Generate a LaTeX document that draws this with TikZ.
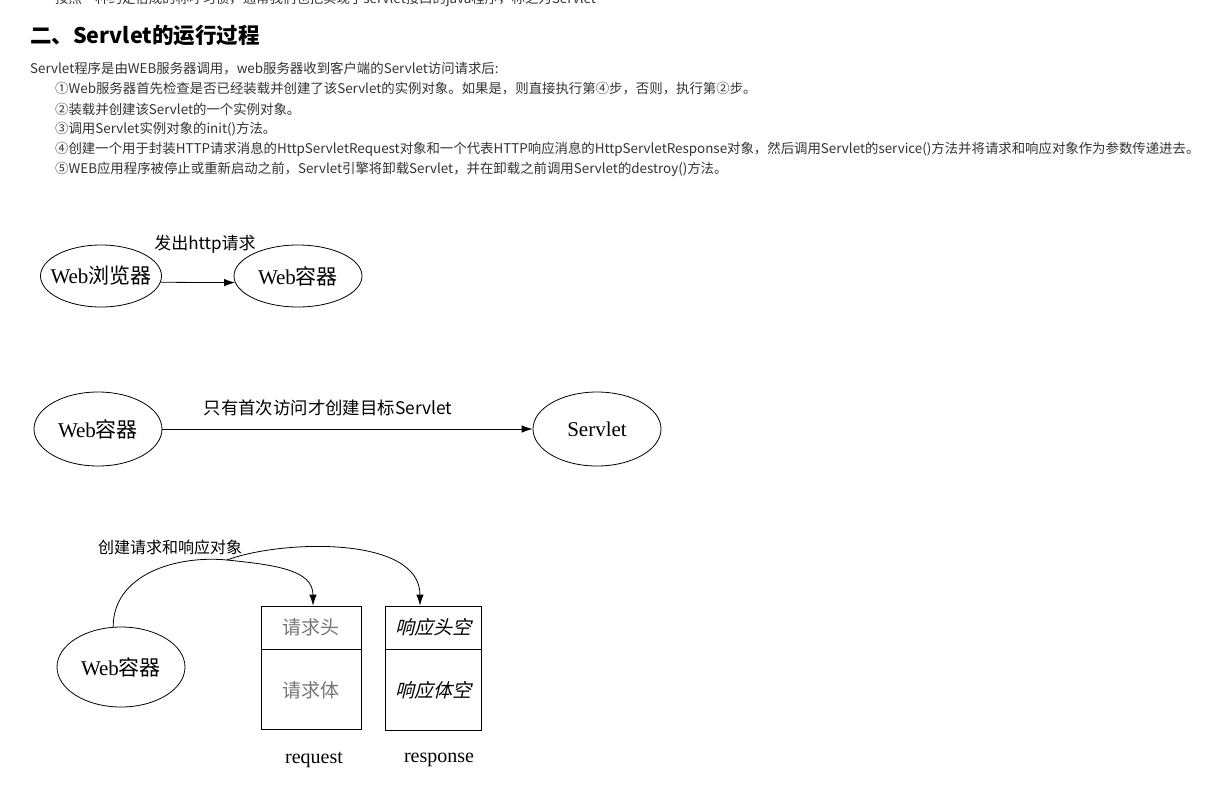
\documentclass[tikz,border=0pt]{standalone}
\usepackage{fontspec}
\setmainfont{Liberation Serif}
\newfontfamily\cjk{Noto Sans CJK SC}
\newfontfamily\cjkit[FakeSlant=0.25]{Noto Sans CJK SC}
\usetikzlibrary{arrows.meta,shapes.geometric,calc}
\definecolor{bodytxt}{HTML}{333333}
\definecolor{graytxt}{HTML}{777777}
\tikzset{
  body/.style={anchor=west,inner sep=0pt,text=bodytxt,font=\cjk\fontsize{13.4}{15}\selectfont},
  ell/.style={ellipse,draw,line width=0.8pt,inner sep=0pt,font=\fontsize{21}{23}\selectfont},
  lbl/.style={inner sep=0pt,font=\cjk\fontsize{17}{19}\selectfont},
  box/.style={rectangle,draw,line width=0.8pt,inner sep=0pt,font=\cjk\fontsize{19}{21}\selectfont},
  conn/.style={line width=0.8pt,-{Latex[length=11pt,width=7.5pt]}},
  captxt/.style={inner sep=0pt,font=\fontsize{20}{22}\selectfont}
}
\begin{document}
\begin{tikzpicture}[x=1pt,y=-1pt]
\useasboundingbox (0,0) rectangle (1232,785);
\fill[white] (0,0) rectangle (1232,785);
% text
\node[body] (t0) at (55,-1) {按照一种约定俗成的称呼习惯，通常我们也把实现了servlet接口的java程序，称之为Servlet};
\node[anchor=west,inner sep=0pt,font=\cjk\bfseries\fontsize{21.5}{24}\selectfont] (h) at (30,35) {二、Servlet的运行过程};
\node[body] (t1) at (30,69) {Servlet程序是由WEB服务器调用，web服务器收到客户端的Servlet访问请求后:};
\node[body] (t2) at (55,89) {①Web服务器首先检查是否已经装载并创建了该Servlet的实例对象。如果是，则直接执行第④步，否则，执行第②步。};
\node[body] (t3) at (55,109) {②装载并创建该Servlet的一个实例对象。};
\node[body] (t4) at (55,129) {③调用Servlet实例对象的init()方法。};
\node[body] (t5) at (55,149) {④创建一个用于封装HTTP请求消息的HttpServletRequest对象和一个代表HTTP响应消息的HttpServletResponse对象，然后调用Servlet的service()方法并将请求和响应对象作为参数传递进去。};
\node[body] (t6) at (55,169) {⑤WEB应用程序被停止或重新启动之前，Servlet引擎将卸载Servlet，并在卸载之前调用Servlet的destroy()方法。};
% diagram 1
\node[ell,inner xsep=-8pt,minimum width=121,minimum height=62] (e1) at (101,276) {Web{\cjk 浏览器}};
\node[ell,minimum width=128,minimum height=62] (e2) at (298,276) {Web{\cjk 容器}};
\draw[conn] (e1.-6) -- (e2.186);
\node[lbl] (l1) at (205,244) {发出http请求};
% diagram 2
\node[ell,minimum width=128,minimum height=74] (w2) at (98,429) {Web{\cjk 容器}};
\node[ell,minimum width=128,minimum height=74] (sv) at (597,429) {Servlet};
\draw[conn] (w2) -- (sv);
\node[lbl,font=\cjk\fontsize{17.4}{19}\selectfont] (l2) at (328,408) {只有首次访问才创建目标Servlet};
% diagram 3
\node[ell,minimum width=128,minimum height=80] (w3) at (121,667) {Web{\cjk 容器}};
\node[box,minimum width=100,minimum height=43,text=graytxt] (rqh) at (311,627.5) {请求头};
\node[box,minimum width=100,minimum height=80,anchor=north,text=graytxt] (rqb) at (rqh.south) {请求体};
\node[box,minimum width=96,minimum height=43,font=\cjkit\fontsize{19}{21}\selectfont] (rsh) at (433,627.5) {响应头空};
\node[box,minimum width=96,minimum height=81,anchor=north,font=\cjkit\fontsize{19}{21}\selectfont] (rsb) at (rsh.south) {响应体空};
\node[captxt] (rq) at (314,760) {request};
\node[captxt] (rs) at (439,760) {response};
\node[lbl,font=\cjk\fontsize{16}{18}\selectfont] (l3) at (170,547) {创建请求和响应对象};
\coordinate (br) at (227,560);
\draw[line width=0.8pt] (w3.101) .. controls (113,575) and (175,555) .. (br);
\draw[conn] (br) .. controls (276,565) and (313,570) .. ($(rqh.north)+(2,0)$);
\draw[conn] (br) .. controls (280,540) and (420,535) .. ($(rsh.north)+(-13,0)$);
\end{tikzpicture}
\end{document}
